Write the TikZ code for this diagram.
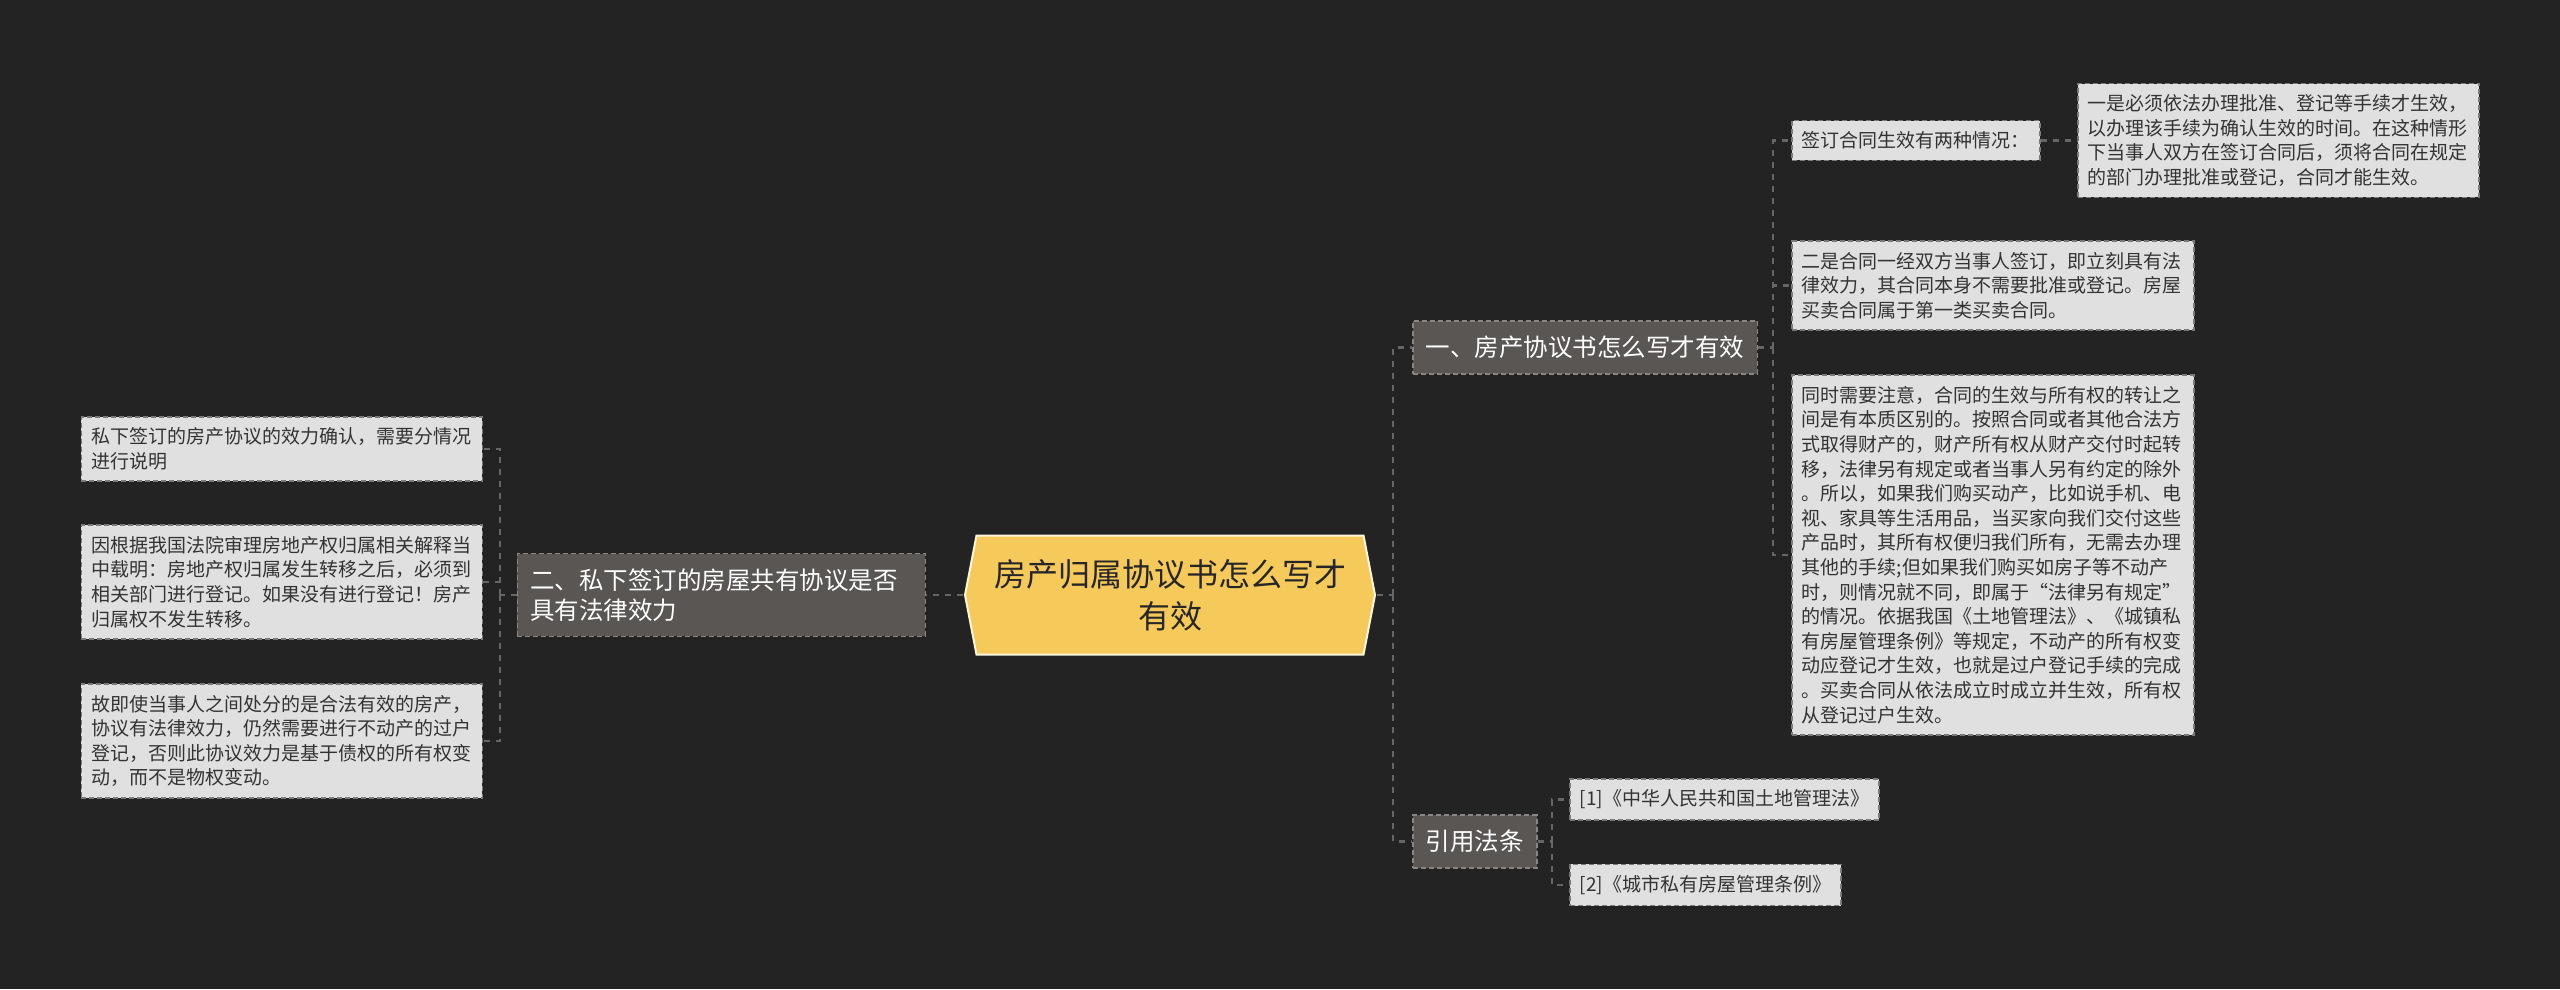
\documentclass[tikz,border=0pt]{standalone}
\usepackage{fontspec}
\setmainfont{Noto Sans CJK SC}
\usetikzlibrary{positioning}

\definecolor{bgcol}{HTML}{232323}
\definecolor{leaffill}{HTML}{E0E0E0}
\definecolor{leafline}{HTML}{7A7A7A}
\definecolor{leaftext}{HTML}{333333}
\definecolor{branchfill}{HTML}{5A5654}
\definecolor{branchline}{HTML}{8A8684}
\definecolor{rootfill}{HTML}{F5CA5B}
\definecolor{rootline}{HTML}{FFF6DC}
\definecolor{linkcol}{HTML}{666666}

\begin{document}
\begin{tikzpicture}[x=1pt,y=-1pt,
    leafbox/.style={draw=leafline, fill=leaffill, line width=1.5pt, dash pattern=on 5pt off 3pt,
      text=leaftext, font=\fontsize{19pt}{24.6pt}\selectfont, align=left, inner xsep=10pt, inner ysep=11pt},
    branchbox/.style={draw=branchline, fill=branchfill, line width=1.5pt, dash pattern=on 5pt off 3pt,
      text=white, font=\fontsize{24.5pt}{30pt}\selectfont, align=left, inner xsep=13pt, inner ysep=15pt},
    rootbox/.style={rectangle, minimum width=413pt, minimum height=122pt, align=center,
      text=black!85, font=\fontsize{32pt}{42pt}\selectfont,
      path picture={
        \fill[rootfill, draw=rootline, line width=2pt]
          ([xshift=1.5pt]path picture bounding box.west)
          -- ([xshift=13pt,yshift=-1.5pt]path picture bounding box.north west)
          -- ([xshift=-13pt,yshift=-1.5pt]path picture bounding box.north east)
          -- ([xshift=-1.5pt]path picture bounding box.east)
          -- ([xshift=-13pt,yshift=1.5pt]path picture bounding box.south east)
          -- ([xshift=13pt,yshift=1.5pt]path picture bounding box.south west)
          -- cycle;}},
    linkline/.style={draw=linkcol, line width=2.5pt, dash pattern=on 6pt off 6pt}]

  \fill[bgcol] (0,0) rectangle (2560,989);
  \useasboundingbox (0,0) rectangle (2560,989);

  % centre
  \node[rootbox] (root) at (1170,595) {房产归属协议书怎么写才\\有效};

  % left side
  \node[branchbox, anchor=east, text width=382pt] (private) at (926,595)
    {二、私下签订的房屋共有协议是否\\具有法律效力};
  \node[leafbox, anchor=east, text width=381pt] (confirm) at (483,449)
    {私下签订的房产协议的效力确认，需要分情况\\进行说明};
  \node[leafbox, anchor=east, text width=381pt] (court) at (483,582)
    {因根据我国法院审理房地产权归属相关解释当\\中载明：房地产权归属发生转移之后，必须到\\相关部门进行登记。如果没有进行登记！房产\\归属权不发生转移。};
  \node[leafbox, anchor=east, text width=381pt] (debt) at (483,741)
    {故即使当事人之间处分的是合法有效的房产，\\协议有法律效力，仍然需要进行不动产的过户\\登记，否则此协议效力是基于债权的所有权变\\动，而不是物权变动。};

  % right side
  \node[branchbox, anchor=west] (howto) at (1412,347.5) {一、房产协议书怎么写才有效};
  \node[branchbox, anchor=west] (laws) at (1412,841.5) {引用法条};

  \node[leafbox, anchor=west] (sign) at (1791,140.5) {签订合同生效有两种情况：};
  \node[leafbox, anchor=west, text width=381pt] (signA) at (2077,140.5)
    {一是必须依法办理批准、登记等手续才生效，\\以办理该手续为确认生效的时间。在这种情形\\下当事人双方在签订合同后，须将合同在规定\\的部门办理批准或登记，合同才能生效。};
  \node[leafbox, anchor=west, text width=382pt] (signB) at (1791,285.5)
    {二是合同一经双方当事人签订，即立刻具有法\\律效力，其合同本身不需要批准或登记。房屋\\买卖合同属于第一类买卖合同。};
  \node[leafbox, anchor=west, text width=382pt] (note) at (1791,555)
    {同时需要注意，合同的生效与所有权的转让之\\间是有本质区别的。按照合同或者其他合法方\\式取得财产的，财产所有权从财产交付时起转\\移，法律另有规定或者当事人另有约定的除外\\。所以，如果我们购买动产，比如说手机、电\\视、家具等生活用品，当买家向我们交付这些\\产品时，其所有权便归我们所有，无需去办理\\其他的手续;但如果我们购买如房子等不动产\\时，则情况就不同，即属于“法律另有规定”\\的情况。依据我国《土地管理法》、《城镇私\\有房屋管理条例》等规定，不动产的所有权变\\动应登记才生效，也就是过户登记手续的完成\\。买卖合同从依法成立时成立并生效，所有权\\从登记过户生效。};

  \node[leafbox, anchor=west] (law1) at (1569,799.5) {[1]《中华人民共和国土地管理法》};
  \node[leafbox, anchor=west] (law2) at (1569,885) {[2]《城市私有房屋管理条例》};

  % connectors
  \coordinate (pj) at (500,595);
  \coordinate (rj) at (1393,595);
  \coordinate (hj) at (1773,347.5);
  \coordinate (lj) at (1552,841.5);

  \draw[linkline] (root.west) -- (private.east);
  \draw[linkline] (private.west) -- (pj);
  \draw[linkline] (pj) |- (confirm.east);
  \draw[linkline] (pj) |- (court.east);
  \draw[linkline] (pj) |- (debt.east);

  \draw[linkline] (root.east) -- (rj);
  \draw[linkline] (rj) |- (howto.west);
  \draw[linkline] (rj) |- (laws.west);

  \draw[linkline] (howto.east) -- (hj);
  \draw[linkline] (hj) |- (sign.west);
  \draw[linkline] (hj) |- (signB.west);
  \draw[linkline] (hj) |- (note.west);
  \draw[linkline] (sign.east) -- (signA.west);

  \draw[linkline] (laws.east) -- (lj);
  \draw[linkline] (lj) |- (law1.west);
  \draw[linkline] (lj) |- (law2.west);
\end{tikzpicture}
\end{document}
